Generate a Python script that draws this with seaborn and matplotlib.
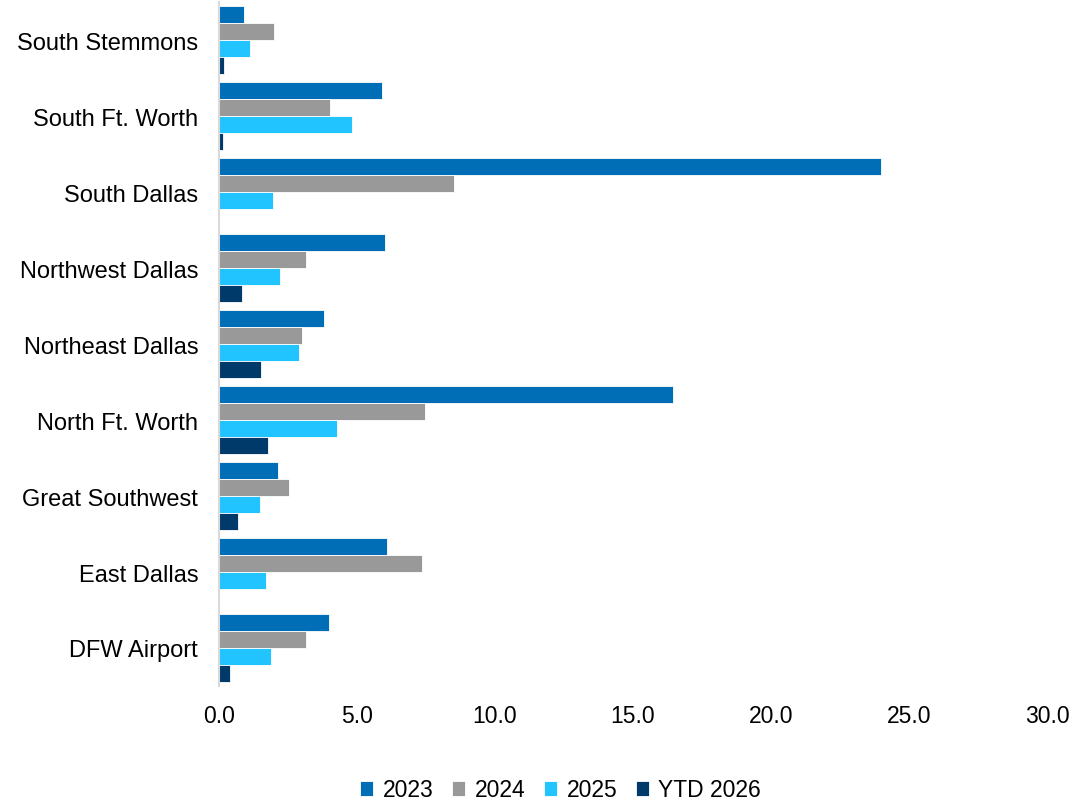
import matplotlib
matplotlib.use("Agg")
import matplotlib.pyplot as plt
import seaborn as sns
import pandas as pd

categories = ["South Stemmons", "South Ft. Worth", "South Dallas", "Northwest Dallas",
              "Northeast Dallas", "North Ft. Worth", "Great Southwest", "East Dallas", "DFW Airport"]
series_names = ["2023", "2024", "2025", "YTD 2026"]
v2023 = [0.92, 5.89, 24.0, 6.01, 3.82, 16.45, 2.13, 6.10, 3.99]
v2024 = [2.00, 4.02, 8.50, 3.14, 3.00, 7.45, 2.54, 7.37, 3.14]
v2025 = [1.12, 4.83, 1.95, 2.22, 2.90, 4.28, 1.49, 1.69, 1.87]
vytd = [0.19, 0.13, 0.0, 0.85, 1.51, 1.76, 0.70, 0.0, 0.40]
xticks = [0, 5, 10, 15, 20, 25, 30]
colors = ["#006DB7", "#999999", "#21C4FF", "#003A6A"]

rows = []
for name, vals in zip(series_names, [v2023, v2024, v2025, vytd]):
    for c, v in zip(categories, vals):
        rows.append({"cat": c, "series": name, "value": v})
df = pd.DataFrame(rows)

sns.set_style("white")
plt.rcParams["font.family"] = ["Liberation Sans", "DejaVu Sans"]
plt.rcParams["text.color"] = "black"
plt.rcParams["xtick.color"] = "black"
plt.rcParams["ytick.color"] = "black"

fig = plt.figure(figsize=(10.82, 8.03), dpi=100)
ax = fig.add_axes([0.2024, 0.1445, 0.7653, 0.8515])
sns.barplot(data=df, y="cat", x="value", hue="series", order=categories,
            hue_order=series_names, palette=colors, orient="h", width=0.9,
            saturation=1, edgecolor="white", linewidth=0.6, ax=ax, legend=True)

ax.set_xlim(0, 30)
ax.set_xticks(xticks)
ax.set_xticklabels([f"{t:.1f}" for t in xticks], fontsize=16.5)
ax.tick_params(axis="x", length=0, pad=13)
ax.tick_params(axis="y", length=0, pad=15, labelsize=17)
ax.set_xlabel("")
ax.set_ylabel("")
for s in ["top", "right", "bottom"]:
    ax.spines[s].set_visible(False)
ax.spines["left"].set_color("#D9D9D9")
ax.spines["left"].set_linewidth(1.5)

handles, labels = ax.get_legend_handles_labels()
ax.get_legend().remove()
fig.legend(handles, labels, loc="center", bbox_to_anchor=(0.518, 0.015), ncol=4,
           frameon=False, fontsize=16.5, handlelength=0.6, handleheight=0.6,
           handletextpad=0.4, columnspacing=0.8)

fig.savefig("out.png", dpi=100)
